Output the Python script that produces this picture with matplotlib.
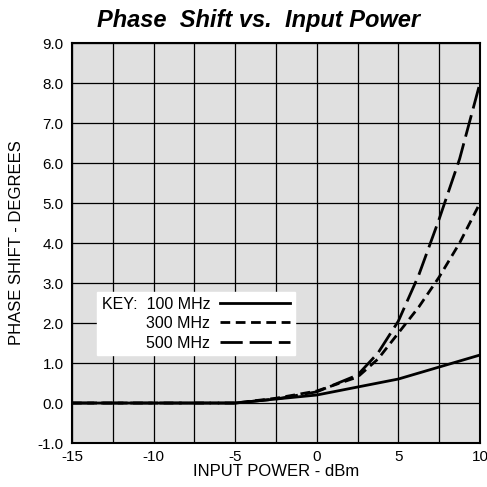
import matplotlib.pyplot as plt

plt.rcParams['font.family'] = ['Liberation Sans', 'DejaVu Sans']
plt.rcParams['axes.unicode_minus'] = False

# data
x_100 = [-15, -5, -2.5, 0, 2.5, 5, 7.5, 10]
y_100 = [0, 0, 0.1, 0.2, 0.4, 0.6, 0.9, 1.2]

x_300 = [-15, -5, -2.5, 0, 2.5, 3.75, 5, 6.25, 7.5, 8.75, 10]
y_300 = [0, 0, 0.12, 0.3, 0.65, 1.1, 1.75, 2.4, 3.15, 4.0, 5.0]

x_500 = [-15, -5, -2.5, 0, 2.5, 3.75, 5, 6.25, 7.5, 8.75, 10]
y_500 = [0, 0, 0.1, 0.28, 0.7, 1.25, 2.05, 3.2, 4.6, 6.1, 8.0]

x_ticks = [-15, -10, -5, 0, 5, 10]
y_ticks = [-1, 0, 1, 2, 3, 4, 5, 6, 7, 8, 9]

fig = plt.figure(figsize=(4.87, 4.87), dpi=100)
ax = fig.add_axes([0.1478, 0.0903, 0.8378, 0.8214])
ax.set_facecolor('#e0e0e0')

l1, = ax.plot(x_100, y_100, color='black', lw=2, label='KEY:  100 MHz')
l2, = ax.plot(x_300, y_300, color='black', lw=2, dashes=(3.5, 2), label='300 MHz')
l3, = ax.plot(x_500, y_500, color='black', lw=2, dashes=(8, 2.5), label='500 MHz')

ax.set_xlim(-15, 10)
ax.set_ylim(-1, 9)
ax.set_xticks(x_ticks)
ax.set_xticks([-12.5, -7.5, -2.5, 2.5, 7.5], minor=True)
ax.set_yticks(y_ticks)
ax.set_yticklabels([f'{v:.1f}' for v in y_ticks])
ax.grid(True, which='both', color='black', lw=0.9)
ax.set_axisbelow(True)
ax.tick_params(which='both', length=0, labelsize=11)
ax.tick_params(axis='y', pad=6)
ax.tick_params(axis='x', pad=5)
for s in ax.spines.values():
    s.set_linewidth(1.5)

ax.set_xlabel('INPUT POWER - dBm', fontsize=12, labelpad=0)
ax.set_ylabel('PHASE SHIFT - DEGREES', fontsize=12, labelpad=10)
fig.text(0.53, 0.958, 'Phase  Shift vs.  Input Power', ha='center', va='center',
         fontsize=17, fontweight='bold', fontstyle='italic')

leg = ax.legend(handles=[l1, l2, l3], loc='upper left', bbox_to_anchor=(0.061, 0.378),
                markerfirst=False, frameon=True, fancybox=False, fontsize=11.5,
                handlelength=4.4, labelspacing=0.28, borderpad=0.3,
                borderaxespad=0, handletextpad=0.6)
leg.get_frame().set_facecolor('white')
leg.get_frame().set_edgecolor('white')
leg.get_frame().set_alpha(1)

fig.savefig('out.png', dpi=100)
